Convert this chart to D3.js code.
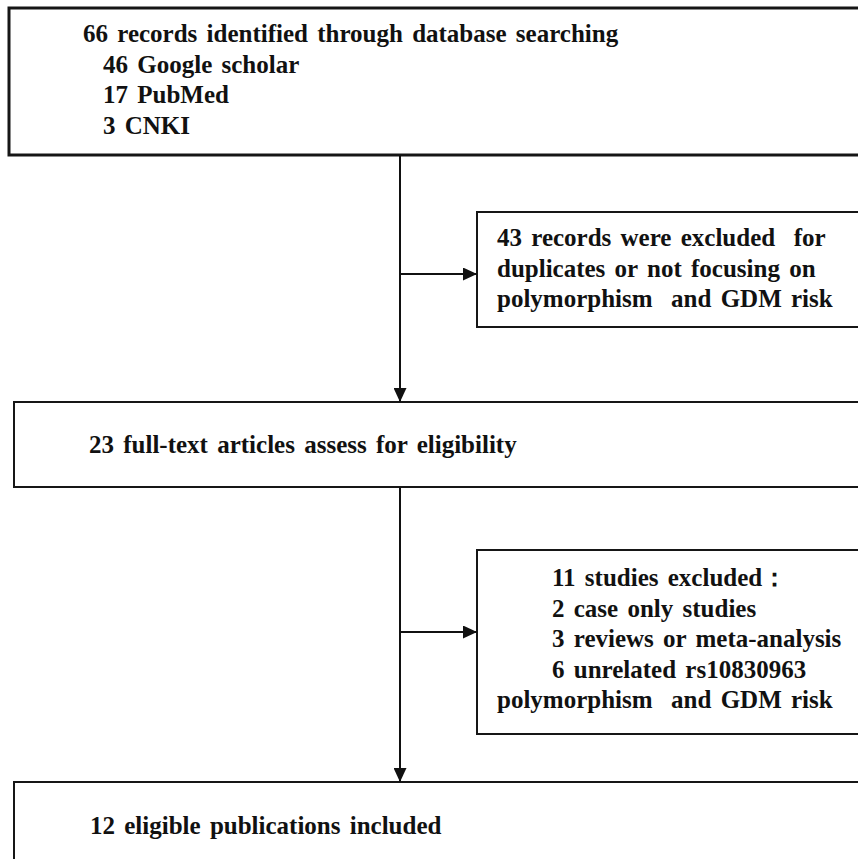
<!DOCTYPE html>
<html>
<head>
<meta charset="utf-8">
<script src="https://cdn.jsdelivr.net/npm/d3@7"></script>
<style>
  html, body { margin: 0; padding: 0; background: #fff; }
  svg { display: block; }
</style>
</head>
<body>
<script>
// counts
var sources = ["Google scholar", "PubMed", "CNKI"];
var sourceCounts = [46, 17, 3];
var excludedRecords = 43;
var fullTextCount = 23;
var exclusionReasons = ["case only studies", "reviews or meta-analysis", "unrelated rs10830963"];
var exclusionCounts = [2, 3, 6];
var includedCount = 12;

var width = 858, height = 859,
    fontSize = 25,
    lineGap = 30.6,
    mainX = 400,
    serif = "'Liberation Serif', Tinos, 'Times New Roman', Times, 'DejaVu Serif', serif";

var svg = d3.select("body").append("svg")
    .attr("width", width)
    .attr("height", height);

svg.append("defs").append("marker")
    .attr("id", "head")
    .attr("viewBox", "0 0 14 13")
    .attr("refX", 14).attr("refY", 6.5)
    .attr("markerWidth", 14).attr("markerHeight", 13)
    .attr("markerUnits", "userSpaceOnUse")
    .attr("orient", "auto")
  .append("path")
    .attr("d", "M0,0L14,6.5L0,13Z")
    .attr("fill", "#111");

// boxes run off the right edge of the picture, as in the source
var boxes = [
  { id: "identified", x: 9,   y: 8,   h: 147, sw: 3,
    lines: [
      { dx: 74, t: d3.sum(sourceCounts) + " records identified through database searching" }
    ].concat(sources.map(function(s, i) { return { dx: 94, t: sourceCounts[i] + " " + s }; })),
    top: 34 },
  { id: "excl1", x: 477, y: 212, h: 115, sw: 2,
    lines: [
      { dx: 20, t: excludedRecords + " records were excluded  for" },
      { dx: 20, t: "duplicates or not focusing on" },
      { dx: 20, t: "polymorphism  and GDM risk" }
    ], top: 34 },
  { id: "fulltext", x: 14, y: 402, h: 85, sw: 2,
    lines: [ { dx: 75, t: fullTextCount + " full-text articles assess for eligibility" } ],
    top: 51 },
  { id: "excl2", x: 477, y: 550, h: 184, sw: 2,
    lines: [ { dx: 75, t: d3.sum(exclusionCounts) + " studies excluded\uFF1A" } ]
      .concat(exclusionReasons.map(function(r, i) { return { dx: 75, t: exclusionCounts[i] + " " + r }; }))
      .concat([ { dx: 20, t: "polymorphism  and GDM risk" } ]),
    top: 36 },
  { id: "included", x: 14, y: 782, h: 120, sw: 2,
    lines: [ { dx: 76, t: includedCount + " eligible publications included" } ],
    top: 52 }
];

var byId = {};
boxes.forEach(function(b) { byId[b.id] = b; });

var g = svg.selectAll("g.box")
    .data(boxes)
  .enter().append("g")
    .attr("class", "box")
    .attr("transform", function(d) { return "translate(" + d.x + "," + d.y + ")"; });

g.append("rect")
    .attr("width", function(d) { return width + 20 - d.x; })
    .attr("height", function(d) { return d.h; })
    .attr("fill", "#fff")
    .attr("stroke", "#161616")
    .attr("stroke-width", function(d) { return d.sw; });

g.selectAll("text")
    .data(function(d) { return d.lines.map(function(l) { return { l: l, top: d.top }; }); })
  .enter().append("text")
    .attr("x", function(d) { return d.l.dx; })
    .attr("y", function(d, i) { return d.top + i * lineGap; })
    .attr("font-family", serif)
    .attr("font-weight", "bold")
    .attr("font-size", fontSize)
    .attr("fill", "#111")
    .attr("xml:space", "preserve")
    .style("white-space", "pre")
    .style("word-spacing", "3px")
    .text(function(d) { return d.l.t; });

// connectors
function bottom(b) { return b.y + b.h; }
var links = [
  [[mainX, bottom(byId.identified)], [mainX, byId.fulltext.y]],
  [[mainX, bottom(byId.fulltext)], [mainX, byId.included.y]],
  [[mainX, 274], [byId.excl1.x, 274]],
  [[mainX, 632], [byId.excl2.x, 632]]
];

svg.selectAll("path.link")
    .data(links)
  .enter().append("path")
    .attr("class", "link")
    .attr("d", d3.line())
    .attr("fill", "none")
    .attr("stroke", "#111")
    .attr("stroke-width", 2)
    .attr("marker-end", "url(#head)");
</script>
</body>
</html>
